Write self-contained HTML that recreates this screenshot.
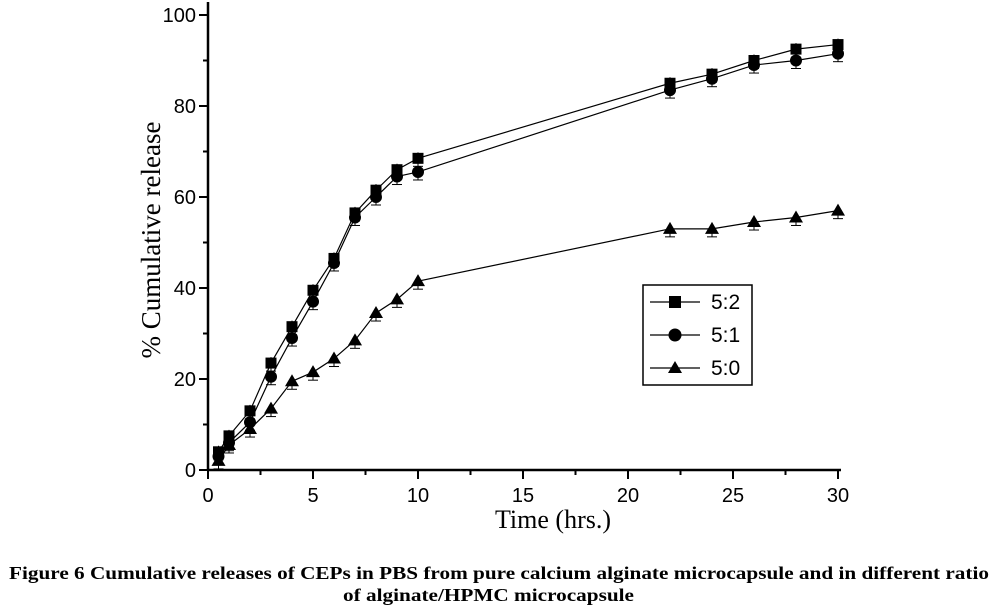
<!DOCTYPE html>
<html><head><style>body{margin:0;background:#fff}</style></head><body>
<svg width="1004" height="609" xmlns="http://www.w3.org/2000/svg" font-family="Liberation Sans, sans-serif">
<g id="ax" stroke="#000" stroke-width="2.5" fill="none">
<line x1="208" y1="2" x2="208" y2="471"/>
<line x1="207" y1="470" x2="841" y2="470"/>
</g>
<g id="ticks" stroke="#000" stroke-width="2"></g>
<g id="lbl" font-size="20" fill="#000"></g>
<text x="160" y="240" font-family="Liberation Serif, serif" font-size="27" transform="rotate(-90 160 240)" text-anchor="middle">% Cumulative release</text>
<text x="553" y="528" font-family="Liberation Serif, serif" font-size="26" text-anchor="middle">Time (hrs.)</text>
<g id="data"></g>
<rect x="643" y="285" width="109" height="100" fill="none" stroke="#000" stroke-width="1.5"/>
<g stroke="#000" stroke-width="1.2"><line x1="650" y1="302" x2="700" y2="302"/><line x1="650" y1="335" x2="700" y2="335"/><line x1="650" y1="368" x2="700" y2="368"/></g>
<rect x="669" y="296" width="12" height="12"/>
<circle cx="675" cy="335" r="6.5"/>
<polygon points="675,361 682,373 668,373"/>
<g font-size="21"><text x="711" y="309">5:2</text><text x="711" y="342">5:1</text><text x="711" y="375">5:0</text></g>
<text x="9" y="579" font-family="Liberation Serif, serif" font-weight="bold" font-size="18" textLength="980" lengthAdjust="spacingAndGlyphs">Figure 6 Cumulative releases of CEPs in PBS from pure calcium alginate microcapsule and in different ratio</text>
<text x="343" y="601" font-family="Liberation Serif, serif" font-weight="bold" font-size="18" textLength="291" lengthAdjust="spacingAndGlyphs">of alginate/HPMC microcapsule</text>
</svg>
<script>
const X=t=>208+t*21.0,Y=v=>470-v*4.55,NS="http://www.w3.org/2000/svg";
function el(p,n,a){const e=document.createElementNS(NS,n);for(const k in a)e.setAttribute(k,a[k]);p.appendChild(e);return e}
const tk=document.getElementById('ticks'),lb=document.getElementById('lbl');
for(let v=0;v<=100;v+=10){const maj=v%20==0;el(tk,'line',{x1:208-(maj?9:5),x2:208,y1:Y(v),y2:Y(v)});if(maj){const t=el(lb,'text',{x:196,y:Y(v)+7,'text-anchor':'end'});t.textContent=v}}
for(let t=0;t<=30;t+=2.5){const maj=t%5==0;el(tk,'line',{x1:X(t),x2:X(t),y1:470,y2:470+(maj?9:5)});if(maj){const s=el(lb,'text',{x:X(t),y:502,'text-anchor':'middle'});s.textContent=t}}
const T=[0.5,1,2,3,4,5,6,7,8,9,10,22,24,26,28,30];
const S=[[4,7.5,13,23.5,31.5,39.5,46.5,56.5,61.5,66,68.5,85,87,90,92.5,93.5],
[3,6,10.5,20.5,29,37,45.5,55.5,60,64.5,65.5,83.5,86,89,90,91.5],
[2,5.5,9,13.5,19.5,21.5,24.5,28.5,34.5,37.5,41.5,53,53,54.5,55.5,57]];
const d=document.getElementById('data');
S.forEach((s,i)=>{el(d,'polyline',{points:s.map((v,j)=>X(T[j])+','+Y(v)).join(' '),fill:'none',stroke:'#000','stroke-width':1.2});
s.forEach((v,j)=>{const x=X(T[j]),y=Y(v);el(d,'line',{x1:x,x2:x,y1:y-6,y2:y+8,stroke:'#000','stroke-width':1});el(d,'line',{x1:x-5,x2:x+5,y1:y+8,y2:y+8,stroke:'#000','stroke-width':1});
if(i==0)el(d,'rect',{x:x-5.5,y:y-5.5,width:11,height:11});else if(i==1)el(d,'circle',{cx:x,cy:y,r:6});else el(d,'polygon',{points:`${x},${y-7} ${x+7},${y+5} ${x-7},${y+5}`});});});
</script>
</body></html>
